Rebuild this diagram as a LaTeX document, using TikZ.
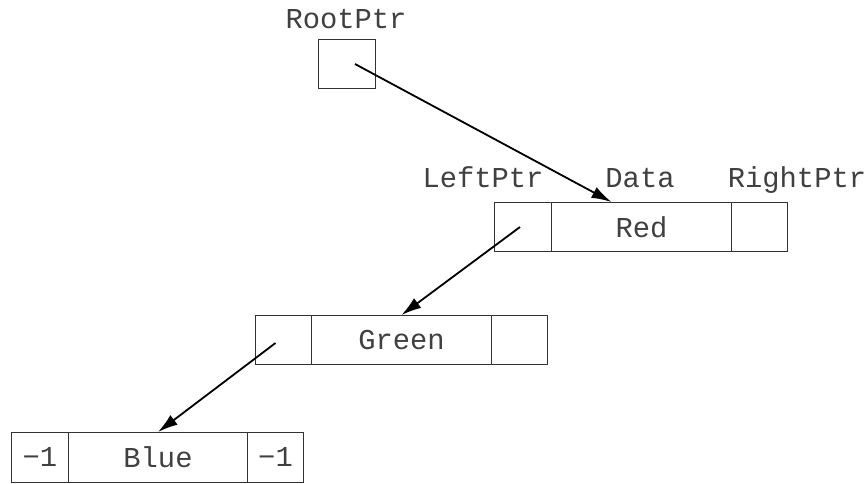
\documentclass[tikz,border=0pt]{standalone}
\usepackage{fontspec}
\setmainfont{Liberation Mono}
\usetikzlibrary{arrows.meta,calc}
\begin{document}
\begin{tikzpicture}[x=1pt,y=-1pt,
  cell/.style={draw=black!80,line width=1pt,rectangle,inner sep=0pt,minimum height=49pt,anchor=north west,font=\fontsize{28.8}{30}\selectfont,text=black!75},
  lbl/.style={anchor=base,inner sep=0pt,font=\fontsize{28.8}{30}\selectfont,text=black!75},
  ptr/.style={line width=1.8pt,-{Latex[length=20pt,width=12pt]}}]
\useasboundingbox (0,0) rectangle (867,483);
% root
\node[lbl] (rootlbl) at (346,28) {RootPtr};
\node[cell,minimum width=57pt] (root) at (318,39) {};
% red record
\node[cell,minimum width=57pt] (redL) at (494,202) {};
\node[cell,minimum width=180pt] (redD) at (551,202) {Red};
\node[cell,minimum width=56pt] (redR) at (731,202) {};
\node[lbl] (lpl) at (483,187) {LeftPtr};
\node[lbl] (dl) at (640,187) {Data};
\node[lbl] (rpl) at (797,187) {RightPtr};
% green record
\node[cell,minimum width=56pt] (grL) at (255,315) {};
\node[cell,minimum width=180pt] (grD) at (311,315) {Green};
\node[cell,minimum width=56pt] (grR) at (491,315) {};
% blue record
\node[cell,minimum width=57pt,minimum height=50pt] (blL) at (11,432) {−1};
\node[cell,minimum width=179pt,minimum height=50pt] (blD) at (68,432) {Blue};
\node[cell,minimum width=56pt,minimum height=50pt] (blR) at (247,432) {−1};
% pointers
\coordinate (rootstart) at ($(root.center)+(8,0)$);
\coordinate (redend) at ($(redD.north)+(-30,0)$);
\draw[ptr] (rootstart) -- (redend);
\coordinate (redstart) at ($(redL.center)+(-3,0)$);
\draw[ptr] (redstart) -- (grD.north);
\coordinate (grstart) at ($(grL.center)+(-8,3)$);
\draw[ptr] (grstart) -- (blD.north);
\end{tikzpicture}
\end{document}
